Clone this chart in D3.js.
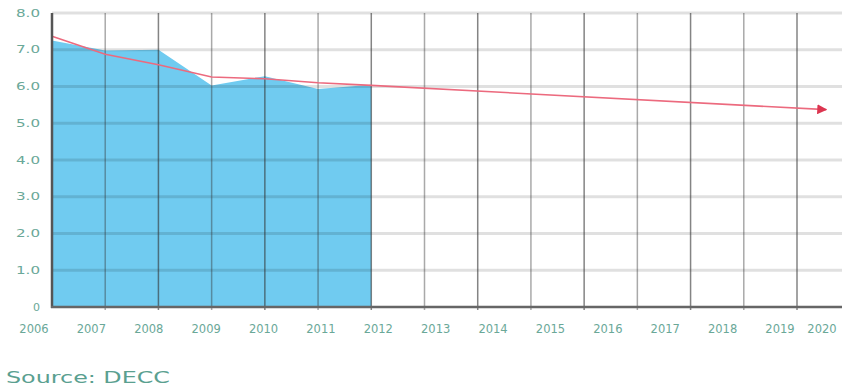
<!DOCTYPE html>
<html><head><meta charset="utf-8">
<script src="https://cdn.jsdelivr.net/npm/d3@7"></script>
<style>
html,body{margin:0;padding:0;background:#fff;overflow:hidden}
svg{display:block}
</style></head>
<body>
<svg id="c" width="842" height="387"></svg>
<script>
// ---- data ----
const areaYears = [2006, 2007, 2008, 2009, 2010, 2011, 2012];
const areaValues = [7.25, 6.98, 7.0, 6.03, 6.28, 5.93, 6.05];
const trendYears = [2006, 2007, 2008, 2009, 2010, 2011, 2012, 2020.55];
const trendValues = [7.37, 6.88, 6.59, 6.26, 6.21, 6.1, 6.03, 5.37];
const yearTicks = [2006,2007,2008,2009,2010,2011,2012,2013,2014,2015,2016,2017,2018,2019,2020];
const yTicks = [0,1,2,3,4,5,6,7,8];
const yTickLabels = ["0","1.0","2.0","3.0","4.0","5.0","6.0","7.0","8.0"];
const sourceText = "Source: DECC";

const svg = d3.select("#c");
const x = d3.scaleLinear().domain([2006, 2020]).range([52, 797]);
const y = d3.scaleLinear().domain([0, 8]).range([307, 13]);
const xLabel = d3.scaleLinear().domain([2006, 2019]).range([34, 780]);
const right = 842;

// area
const area = d3.area().x((d,i)=>x(areaYears[i])).y0(y(0)).y1(d=>y(d));
svg.append("path").datum(areaValues).attr("d", area).attr("fill", "#70cbf0");

// horizontal gridlines
svg.append("g").selectAll("line").data(yTicks.filter(v=>v>0)).join("line")
  .attr("x1", x(2006)).attr("x2", right)
  .attr("y1", d=>y(d)).attr("y2", d=>y(d))
  .attr("stroke", "rgba(0,0,0,0.12)").attr("stroke-width", 3);

// vertical gridlines
svg.append("g").selectAll("line").data(yearTicks.slice(1)).join("line")
  .attr("x1", d=>x(d)).attr("x2", d=>x(d))
  .attr("y1", y(8)).attr("y2", y(0)+3)
  .attr("stroke", (d,i)=> i%2===0 ? "rgba(50,50,50,0.42)" : "rgba(50,50,50,0.6)")
  .attr("stroke-width", 1.5);

// trend line with arrow
const defs = svg.append("defs");
defs.append("marker").attr("id","arr").attr("viewBox","0 0 10 10")
  .attr("refX", 9).attr("refY", 5).attr("markerWidth", 10).attr("markerHeight", 10)
  .attr("markerUnits","userSpaceOnUse").attr("orient","auto")
  .append("path").attr("d","M0,0 L10,5 L0,10 Z").attr("fill","#dc3550");
const line = d3.line().x((d,i)=>x(trendYears[i])).y(d=>y(d));
svg.append("path").datum(trendValues).attr("d", line)
  .attr("fill","none").attr("stroke","#ec6a7e").attr("stroke-width",1.6)
  .attr("marker-end","url(#arr)");

// axes lines
svg.append("line").attr("x1", x(2006)).attr("x2", x(2006)).attr("y1", y(8)).attr("y2", y(0)+1)
  .attr("stroke","#555").attr("stroke-width",2.5);
svg.append("line").attr("x1", x(2006)-1).attr("x2", right).attr("y1", y(0)).attr("y2", y(0))
  .attr("stroke","#666").attr("stroke-width",2.5);

// y labels
svg.append("g").selectAll("text").data(yTicks).join("text")
  .attr("x", 40).attr("y", d=>y(d)+3.5)
  .attr("text-anchor","end")
  .attr("font-family","DejaVu Sans").attr("font-size",10)
  .attr("textLength", (d,i)=> yTickLabels[i].length===1 ? 7 : 24).attr("lengthAdjust","spacingAndGlyphs")
  .attr("fill","#6aa898")
  .text((d,i)=>yTickLabels[i]);

// x labels
svg.append("g").selectAll("text").data(yearTicks).join("text")
  .attr("x", d => Math.min(xLabel(d), 822))
  .attr("y", 333)
  .attr("text-anchor","middle")
  .attr("font-family","DejaVu Sans").attr("font-size",11.5)
  .attr("fill","#6aa898")
  .text(d=>String(d));

// source
svg.append("text").attr("x", 6).attr("y", 383)
  .attr("font-family","DejaVu Sans").attr("font-size",16)
  .attr("textLength", 164).attr("lengthAdjust","spacingAndGlyphs")
  .attr("fill","#5aa090")
  .text(sourceText);
</script>
</body></html>
